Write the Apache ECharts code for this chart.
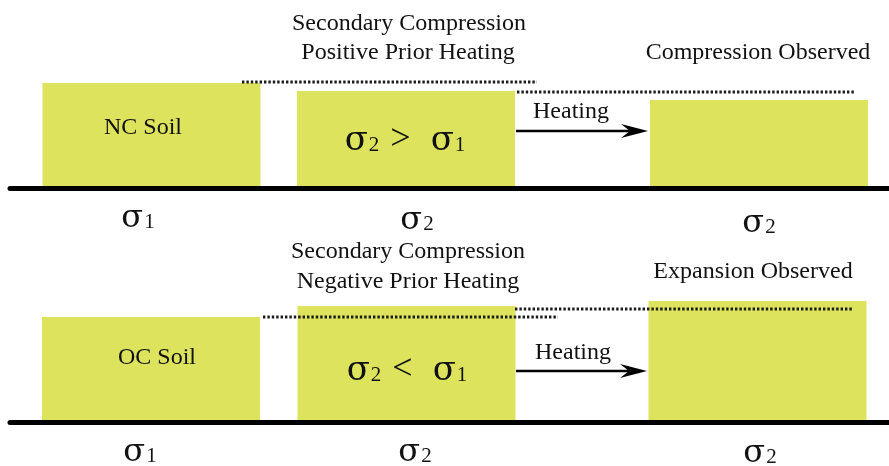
<!DOCTYPE html>
<html><head><meta charset="utf-8">
<script src="https://cdn.jsdelivr.net/npm/echarts@6/dist/echarts.min.js"></script>
<style>html,body{margin:0;padding:0;background:#fff}#c{width:889px;height:466px}</style>
</head><body><div id="c"></div>
<script>
// ---- data (diagram units) ----
const stages = ['Initial state', 'Secondary compression', 'After heating'];
const stageXTop = [151.5, 406, 759];
const stageXBottom = [151, 406.5, 757.5];
// soil column heights above the base
const heightsNC = [105, 97, 88];
const heightsOC = [105, 116, 121];
// dotted reference levels: [fromX, toX, level]
const refNC = [[242, 537, 106], [517, 855, 96]];
const refOC = [[263, 558, 105], [515, 852, 113]];
// heating arrows: [fromX, toX, level]
const arrowNC = [[516, 648, 57]];
const arrowOC = [[516, 647, 51]];
// texts
const topCaption = ['Secondary Compression', 'Positive Prior Heating', 'Compression Observed', 'NC Soil'];
const botCaption = ['Secondary Compression', 'Negative Prior Heating', 'Expansion Observed', 'OC Soil'];
const stressLabels = ['1', '2', '2'];

const FONT = '"Liberation Serif", "Times New Roman", serif';
const SFONT = '"DejaVu Serif", serif';
const BOX = '#dee35d';
const INK = '#111';

const chart = echarts.init(document.getElementById('c'), null, {renderer: 'canvas'});

function xAxisCfg(idx) {
  return {
    gridIndex: idx, type: 'value', min: 10, max: 889, z: 10,
    axisLine: {show: true, onZero: true, lineStyle: {color: '#000', width: 5}},
    axisTick: {show: false}, axisLabel: {show: false}, splitLine: {show: false}
  };
}
function yAxisCfg(idx, max) {
  return {gridIndex: idx, type: 'value', min: 0, max: max, show: false, splitLine: {show: false}};
}

function barSeries(idx, xs, hs) {
  return {
    type: 'bar', xAxisIndex: idx, yAxisIndex: idx, barWidth: 218, z: 2,
    itemStyle: {color: BOX}, silent: true, animation: false,
    data: xs.map((x, i) => [x, hs[i]])
  };
}
function refSeries(idx, refs) {
  return refs.map(r => ({
    type: 'line', xAxisIndex: idx, yAxisIndex: idx, symbol: 'none', z: 4, silent: true, animation: false,
    lineStyle: {color: '#1a1a1a', width: 3, type: [2.4, 2], cap: 'butt'},
    data: [[r[0], r[2]], [r[1], r[2]]]
  }));
}
function arrowSeries(idx, arr) {
  return {
    type: 'custom', xAxisIndex: idx, yAxisIndex: idx, z: 5, silent: true, animation: false,
    data: arr,
    renderItem: (params, api) => {
      const p0 = api.coord([api.value(0), api.value(2)]);
      const p1 = api.coord([api.value(1), api.value(2)]);
      const L = 27, W = 7, N = 9;
      return {type: 'group', children: [
        {type: 'line', shape: {x1: p0[0], y1: p0[1], x2: p1[0] - L + N, y2: p1[1]},
          style: {stroke: '#000', lineWidth: 2.5}},
        {type: 'polygon', shape: {points: [[p1[0], p1[1]], [p1[0] - L, p1[1] - W], [p1[0] - L + N, p1[1]], [p1[0] - L, p1[1] + W]]},
          style: {fill: '#000'}}
      ]};
    }
  };
}

function txt(t, x, y, fs) {
  return {type: 'text', x: x, y: y, z: 20, silent: true,
    style: {text: t, fill: INK, font: fs + 'px ' + FONT, align: 'center', verticalAlign: 'middle'}};
}
function richFor(sz) {
  return {
    s: {fontSize: sz, fontFamily: SFONT, color: INK, verticalAlign: 'bottom'},
    d: {fontSize: 21, fontFamily: FONT, color: INK, verticalAlign: 'bottom', padding: [0, 0, 2, 1]},
    op: {fontSize: 36, fontFamily: FONT, color: INK, verticalAlign: 'bottom', padding: [0, 20, 0, 11]}
  };
}
function sig(t, x, yBottom, sz) {
  return {type: 'text', x: x, y: yBottom, z: 20, silent: true,
    style: {text: t, rich: richFor(sz), align: 'center', verticalAlign: 'bottom', fill: INK}};
}

chart.setOption({
  backgroundColor: '#fff',
  animation: false,
  grid: [
    {left: 10, right: 0, top: 0, bottom: 466 - 188},
    {left: 10, right: 0, top: 0, bottom: 466 - 422}
  ],
  xAxis: [xAxisCfg(0), xAxisCfg(1)],
  yAxis: [yAxisCfg(0, 188), yAxisCfg(1, 422)],
  series: [
    barSeries(0, stageXTop, heightsNC),
    barSeries(1, stageXBottom, heightsOC),
    ...refSeries(0, refNC),
    ...refSeries(1, refOC),
    arrowSeries(0, arrowNC),
    arrowSeries(1, arrowOC)
  ],
  graphic: [
    txt(topCaption[0], 409, 24, 24),
    txt(topCaption[1], 408, 53, 24),
    txt(topCaption[2], 758, 53, 24),
    txt(topCaption[3], 143, 128, 24),
    txt('Heating', 571, 112, 24),
    sig('{s|σ}{d|2}{op|>}{s|σ}{d|1}', 405, 158, 34),
    sig('{s|σ}{d|' + stressLabels[0] + '}', 138, 235, 32),
    sig('{s|σ}{d|' + stressLabels[1] + '}', 417, 237, 32),
    sig('{s|σ}{d|' + stressLabels[2] + '}', 759, 240, 32),
    txt(botCaption[0], 408, 252, 24),
    txt(botCaption[1], 408, 282, 24),
    txt(botCaption[2], 753, 272, 24),
    txt(botCaption[3], 157, 358, 24),
    txt('Heating', 573, 353, 24),
    sig('{s|σ}{d|2}{op|<}{s|σ}{d|1}', 407, 388, 34),
    sig('{s|σ}{d|' + stressLabels[0] + '}', 140, 469, 32),
    sig('{s|σ}{d|' + stressLabels[1] + '}', 415, 469, 32),
    sig('{s|σ}{d|' + stressLabels[2] + '}', 760, 470, 32)
  ]
});
</script></body></html>
